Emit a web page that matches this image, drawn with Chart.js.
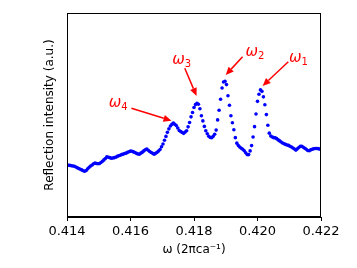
<!DOCTYPE html>
<html>
<head>
<meta charset="utf-8">
<script src="https://cdn.jsdelivr.net/npm/chart.js@4.4.0/dist/chart.umd.min.js"></script>
<style>
  body { margin: 0; background: #fff; }
  canvas { display: block; }
</style>
</head>
<body>
<canvas id="reflChart" width="357" height="268"></canvas>
<script>
// frequency sweep (2πc/a), evenly sampled
const freqStart = 0.414;
const freqEnd = 0.422;

// reflection intensity (a.u.)
const intensity = [
  25.5, 25.4, 25.3, 25.1, 25.0, 24.9, 24.5, 24.1, 23.8, 23.4,
  23.1, 22.7, 22.4, 22.8, 23.6, 24.4, 25.0, 25.5, 26.1, 26.4,
  26.2, 26.1, 26.2, 26.7, 27.3, 28.0, 28.7, 29.5, 29.3, 29.1,
  28.8, 28.9, 29.1, 29.3, 29.7, 30.0, 30.3, 30.6, 30.8, 31.1,
  31.3, 31.7, 32.0, 32.3, 32.2, 31.9, 31.6, 31.2, 30.9, 30.8,
  31.3, 31.8, 32.4, 33.0, 33.3, 32.7, 32.1, 31.6, 31.2, 30.8,
  31.2, 31.7, 32.3, 33.1, 34.4, 35.8, 37.6, 39.5, 41.5, 43.2,
  44.6, 45.4, 46.1, 45.5, 44.8, 43.6, 42.4, 41.9, 41.4, 41.0,
  41.7, 42.3, 44.2, 46.3, 49.1, 51.2, 53.7, 55.1, 55.7, 55.3,
  53.1, 49.6, 47.1, 44.4, 42.3, 40.8, 39.6, 39.0, 38.9, 39.6,
  40.6, 42.6, 47.6, 52.3, 57.7, 63.2, 66.2, 66.5, 64.9, 59.4,
  54.8, 49.6, 46.2, 42.8, 38.9, 36.2, 35.0, 34.3, 33.7, 33.2,
  32.5, 31.5, 30.6, 30.6, 32.4, 35.0, 39.2, 44.3, 50.5, 56.7,
  60.2, 62.3, 61.6, 58.9, 55.0, 50.2, 45.0, 41.1, 39.7, 39.2,
  38.9, 38.8, 38.4, 37.8, 37.3, 36.8, 36.3, 35.9, 35.6, 35.3,
  35.1, 34.7, 34.3, 33.8, 33.3, 32.8, 33.4, 34.1, 34.7, 34.7,
  34.2, 33.7, 33.2, 32.6, 32.5, 32.9, 33.2, 33.4, 33.6, 33.6,
  33.5, 33.3, 33.2
];

const xTicks = [0.414, 0.416, 0.418, 0.420, 0.422];

// mode labels and their arrows (data coordinates)
const modeLabels = ['1', '2', '3', '4'];
const labelX = [0.42129, 0.41992, 0.41761, 0.41561];
const labelY = [77.8, 81.0, 77.0, 55.7];
const tailX = [0.42097, 0.41953, 0.41771, 0.41603];
const tailY = [76.1, 78.6, 72.9, 53.3];
const tipX = [0.42016, 0.41900, 0.41808, 0.41729];
const tipY = [64.2, 69.6, 59.3, 47.2];

const step = (freqEnd - freqStart) / (intensity.length - 1);
const points = intensity.map((v, i) => ({ x: freqStart + i * step, y: v }));

const framePlugin = {
  id: 'frame',
  afterDraw(chart) {
    const { ctx, chartArea: a } = chart;
    ctx.save();
    ctx.strokeStyle = '#000';
    ctx.lineWidth = 1;
    ctx.strokeRect(Math.round(a.left) + 0.5, Math.round(a.top) + 0.5,
      Math.round(a.right - a.left) - 1, Math.round(a.bottom - a.top) - 1);
    ctx.restore();
  }
};

const arrowPlugin = {
  id: 'modeArrows',
  afterDatasetsDraw(chart) {
    const { ctx } = chart;
    const xs = chart.scales.x, ys = chart.scales.y;
    ctx.save();
    ctx.strokeStyle = '#ff0000';
    ctx.fillStyle = '#ff0000';
    ctx.lineWidth = 1.5;
    modeLabels.forEach((sub, i) => {
      const x0 = xs.getPixelForValue(tailX[i]), y0 = ys.getPixelForValue(tailY[i]);
      const x1 = xs.getPixelForValue(tipX[i]), y1 = ys.getPixelForValue(tipY[i]);
      const ang = Math.atan2(y1 - y0, x1 - x0);
      const head = 8, half = 3.5;
      const bx = x1 - head * Math.cos(ang), by = y1 - head * Math.sin(ang);
      ctx.beginPath();
      ctx.moveTo(x0, y0);
      ctx.lineTo(bx, by);
      ctx.stroke();
      ctx.beginPath();
      ctx.moveTo(x1, y1);
      ctx.lineTo(bx - half * Math.sin(ang), by + half * Math.cos(ang));
      ctx.lineTo(bx + half * Math.sin(ang), by - half * Math.cos(ang));
      ctx.closePath();
      ctx.fill();

      // omega with subscript
      const tx = xs.getPixelForValue(labelX[i]), ty = ys.getPixelForValue(labelY[i]);
      ctx.font = 'italic 15px "DejaVu Sans"';
      const wMain = ctx.measureText('ω').width;
      ctx.font = '10px "DejaVu Sans"';
      const wSub = ctx.measureText(sub).width;
      const left = tx - (wMain + wSub) / 2;
      ctx.textBaseline = 'alphabetic';
      ctx.textAlign = 'left';
      ctx.font = 'italic 15px "DejaVu Sans"';
      ctx.fillText('ω', left, ty + 4);
      ctx.font = '10px "DejaVu Sans"';
      ctx.fillText(sub, left + wMain, ty + 7);
    });
    ctx.restore();
  }
};

new Chart(document.getElementById('reflChart'), {
  type: 'scatter',
  data: {
    datasets: [{
      data: points,
      pointRadius: 1.8,
      pointBorderWidth: 0,
      pointBackgroundColor: '#0000ff',
      showLine: false
    }]
  },
  options: {
    responsive: false,
    animation: false,
    events: [],
    layout: { padding: { left: 0, right: 36, top: 13, bottom: 0 } },
    plugins: { legend: { display: false }, tooltip: { enabled: false } },
    scales: {
      x: {
        type: 'linear',
        min: freqStart,
        max: freqEnd,
        afterBuildTicks: s => { s.ticks = xTicks.map(v => ({ value: v })); },
        afterFit: s => { s.height = 51; },
        ticks: {
          color: '#000',
          font: { family: 'DejaVu Sans', size: 13 },
          padding: 3,
          maxRotation: 0,
          callback: v => v.toFixed(3)
        },
        grid: { drawOnChartArea: false, drawTicks: true, tickLength: 4, color: '#000' },
        border: { display: true, color: '#000' },
        title: {
          display: true,
          text: 'ω (2πca⁻¹)',
          color: '#000',
          font: { family: 'DejaVu Sans', size: 12 },
          padding: { top: 0, bottom: 11 }
        }
      },
      y: {
        min: 0,
        max: 100,
        afterFit: s => { s.width = 67; },
        ticks: { display: false },
        grid: { display: false },
        border: { display: true, color: '#000' },
        title: {
          display: true,
          text: 'Reflection intensity (a.u.)',
          color: '#000',
          font: { family: 'DejaVu Sans', size: 12 },
          padding: { top: 43, bottom: 0 }
        }
      }
    }
  },
  plugins: [framePlugin, arrowPlugin]
});
</script>
</body>
</html>
